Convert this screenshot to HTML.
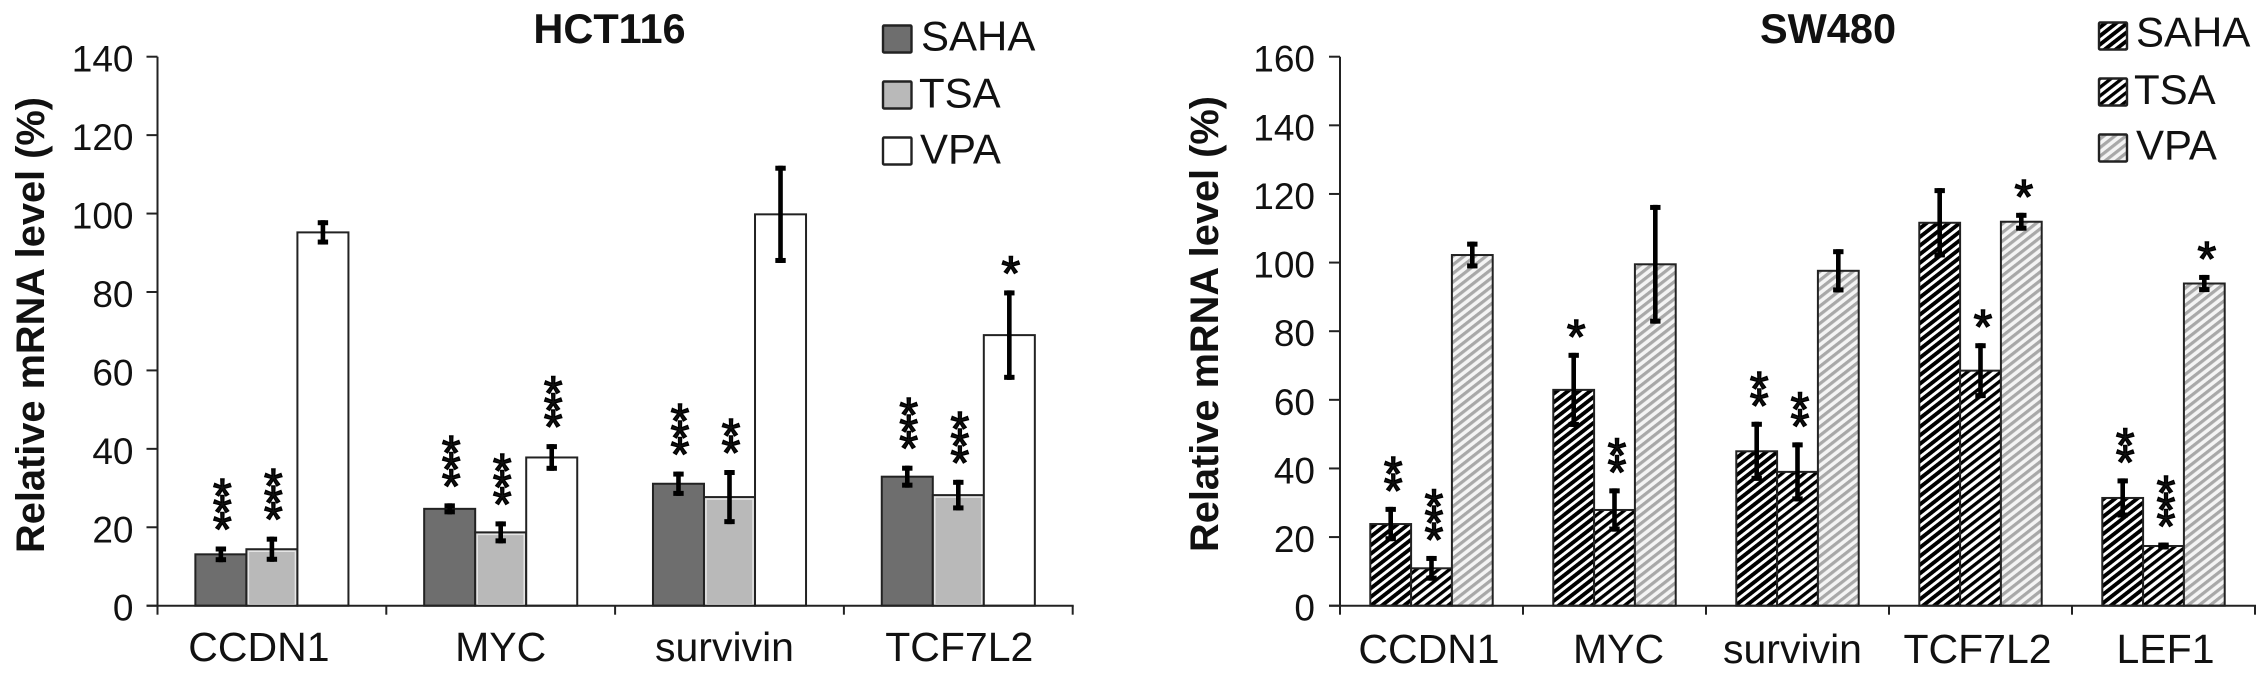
<!DOCTYPE html>
<html>
<head>
<meta charset="utf-8">
<title>Relative mRNA level in HCT116 and SW480</title>
<style>
html,body{margin:0;padding:0;background:#fff;width:2268px;height:677px;overflow:hidden}
svg{display:block}
text{font-family:"Liberation Sans",Arial,sans-serif;fill:#111}
</style>
</head>
<body>
<svg id="figure" xmlns="http://www.w3.org/2000/svg" width="2268" height="677" viewBox="0 0 2268 677">
<defs>
<pattern id="hatch-saha" width="6.8" height="6.8" patternUnits="userSpaceOnUse" patternTransform="rotate(-38)"><rect width="6.8" height="6.8" fill="#fff"/><rect width="6.8" height="3.9" fill="#000"/></pattern>
<pattern id="hatch-tsa" width="6.8" height="6.8" patternUnits="userSpaceOnUse" patternTransform="rotate(-38)"><rect width="6.8" height="6.8" fill="#fff"/><rect width="6.8" height="3.3" fill="#000"/></pattern>
<pattern id="hatch-vpa" width="6.8" height="6.8" patternUnits="userSpaceOnUse" patternTransform="rotate(-38)"><rect width="6.8" height="6.8" fill="#f4f4f4"/><rect width="6.8" height="3.2" fill="#a8a8a8"/></pattern>
</defs>
<g id="left-chart"></g>
<g id="right-chart"></g>
</svg>
<script>
// ---- HCT116 data ----
const hctCategories = ["CCDN1", "MYC", "survivin", "TCF7L2"];
const hctTicks = [0, 20, 40, 60, 80, 100, 120, 140];
const hctSaha = [13.1, 24.7, 31.1, 32.9];
const hctTsa = [14.4, 18.7, 27.7, 28.2];
const hctVpa = [95.2, 37.8, 99.8, 69];
const hctSahaErr = [2, 1.4, 3.1, 2.8];
const hctTsaErr = [3.2, 2.8, 6.9, 3.9];
const hctVpaErr = [3.1, 3.4, 12.4, 11.4];
const hctSahaStars = [3, 3, 3, 3];
const hctTsaStars = [3, 3, 2, 3];
const hctVpaStars = [0, 3, 0, 1];

// ---- SW480 data ----
const swCategories = ["CCDN1", "MYC", "survivin", "TCF7L2", "LEF1"];
const swTicks = [0, 20, 40, 60, 80, 100, 120, 140, 160];
const swSaha = [23.8, 62.9, 45, 111.6, 31.4];
const swTsa = [10.9, 27.9, 39, 68.5, 17.4];
const swVpa = [102.2, 99.5, 97.6, 111.9, 93.9];
const swSahaErr = [5, 10.8, 8.6, 10.1, 5.7];
const swTsaErr = [3.6, 6.3, 8.6, 8, 1];
const swVpaErr = [3.9, 17.3, 6.3, 2.6, 2.5];
const swSahaStars = [2, 1, 2, 0, 2];
const swTsaStars = [3, 2, 2, 1, 3];
const swVpaStars = [0, 0, 0, 1, 1];

const seriesNames = ["SAHA", "TSA", "VPA"];

const SVGNS = "http://www.w3.org/2000/svg";
function mk(parent, tag, props) {
  const el = document.createElementNS(SVGNS, tag);
  for (const k in props) el.setAttribute(k, props[k]);
  parent.appendChild(el);
  return el;
}

function drawChart(root, cfg) {
  const yScale = v => cfg.y0 - (v / cfg.yMax) * (cfg.y0 - cfg.yTop);
  const catW = (cfg.x1 - cfg.x0) / cfg.categories.length;
  const barW = catW * 0.223;
  const barX = (c, s) => cfg.x0 + c * catW + (catW - 3 * barW) / 2 + s * barW;

  // bars
  cfg.series.forEach((vals, s) => {
    vals.forEach((v, c) => {
      const bar = mk(root, "rect", {x: barX(c, s), y: yScale(v), width: barW, height: cfg.y0 - yScale(v), fill: cfg.fills[s], stroke: "#222", "stroke-width": 2});
      
      
      if (cfg.innerEdges[s]) {
        const edge = mk(root, "rect", {x: barX(c, s) + 2, y: yScale(v) + 2, width: barW - 4, height: cfg.y0 - yScale(v) - 3, fill: "none", stroke: cfg.innerEdges[s], "stroke-width": 1.5});
        
        
      }
    });
  });

  // axes
  const yAxis = mk(root, "line", {x1: cfg.x0, x2: cfg.x0, y1: yScale(cfg.yMax), y2: cfg.y0, stroke: "#222", "stroke-width": 2});
  
  
  const xAxis = mk(root, "line", {x1: cfg.x0 - 11, x2: cfg.x1 + 1, y1: cfg.y0, y2: cfg.y0, stroke: "#222", "stroke-width": 2});
  
  

  cfg.ticks.forEach(t => {
    const y = yScale(t);
    const tick = mk(root, "line", {x1: cfg.x0 - 11, x2: cfg.x0, y1: y, y2: y, stroke: "#222", "stroke-width": 2});
    
    
    const lab = mk(root, "text", {x: cfg.x0 - cfg.tickGap, y: y + 15, "text-anchor": "end", "font-size": 37});
    lab.textContent = t;
    
    
  });

  for (let i = 0; i <= cfg.categories.length; i++) {
    const x = cfg.x0 + i * catW;
    const tick = mk(root, "line", {x1: x, x2: x, y1: cfg.y0, y2: cfg.y0 + 9, stroke: "#222", "stroke-width": 2});
    
    
  }

  cfg.categories.forEach((name, c) => {
    const lab = mk(root, "text", {x: cfg.x0 + (c + 0.5) * catW + cfg.labelDx[c], y: cfg.labelY, "text-anchor": "middle", "font-size": 41});
    lab.textContent = name;
    
    
  });

  // error bars and significance stars
  cfg.series.forEach((vals, s) => {
    vals.forEach((v, c) => {
      const cx = barX(c, s) + barW / 2;
      const err = cfg.errors[s][c];
      const top = yScale(v + err);
      const bot = yScale(v - err);
      const stem = mk(root, "line", {x1: cx, x2: cx, y1: top, y2: bot, stroke: "#000", "stroke-width": 4.6});
      
      
      const capT = mk(root, "line", {x1: cx - 5.2, x2: cx + 5.2, y1: top + 2.5, y2: top + 2.5, stroke: "#000", "stroke-width": 5});
      
      
      const capB = mk(root, "line", {x1: cx - 5.2, x2: cx + 5.2, y1: bot - 2.5, y2: bot - 2.5, stroke: "#000", "stroke-width": 5});
      
      
      for (let k = 0; k < cfg.stars[s][c]; k++) {
        const star = mk(root, "text", {x: cx + cfg.starDx, y: top - cfg.starGap - k * cfg.starStep + 25, "text-anchor": "middle", "font-size": 48, stroke: "#000", "stroke-width": 1.4, fill: "#000"});
        star.textContent = "*";
        
        
      }
    });
  });

  // title
  const title = mk(root, "text", {x: cfg.titleX, y: 43, "text-anchor": "middle", "font-size": 41.5, "font-weight": "bold"});
  title.textContent = cfg.title;
  
  

  // y axis title
  const yt = mk(root, "text", {x: 0, y: 0, transform: "translate(" + cfg.yTitleX + "," + cfg.yTitleY + ") rotate(-90)", "text-anchor": "middle", "font-size": 40, "font-weight": "bold", textLength: 456, lengthAdjust: "spacingAndGlyphs"});
  yt.textContent = "Relative mRNA level (%)";
  
  

  // legend
  seriesNames.forEach((name, s) => {
    const sw = mk(root, "rect", {x: cfg.legendX, y: cfg.legendY[s], width: cfg.legendW, height: 27, fill: cfg.fills[s], stroke: "#222", "stroke-width": 2.4, rx: 1});
    
    
    const tx = mk(root, "text", {x: cfg.legendTextX[s], y: cfg.legendBase[s], "font-size": 42});
    tx.textContent = name;
    
    
  });
}

drawChart(document.getElementById("left-chart"), {
  categories: hctCategories, ticks: hctTicks,
  series: [hctSaha, hctTsa, hctVpa],
  errors: [hctSahaErr, hctTsaErr, hctVpaErr],
  stars: [hctSahaStars, hctTsaStars, hctVpaStars],
  fills: ["#6e6e6e", "#b9b9b9", "#ffffff"],
  innerEdges: [null, "#e6e6e6", null],
  x0: 157.5, x1: 1072.7, y0: 605.7, yTop: 56.7, yMax: 140,
  tickGap: 24, labelDx: [-13, 0, -5, 1], labelY: 661,
  starDx: 1.5, starGap: 26, starStep: 16.8,
  title: "HCT116", titleX: 609.5, yTitleX: 44, yTitleY: 325,
  legendX: 883, legendW: 28.5, legendY: [25.5, 81.5, 137.5],
  legendTextX: [921, 919, 920], legendBase: [50.7, 107.3, 163.3]
});

drawChart(document.getElementById("right-chart"), {
  categories: swCategories, ticks: swTicks,
  series: [swSaha, swTsa, swVpa],
  errors: [swSahaErr, swTsaErr, swVpaErr],
  stars: [swSahaStars, swTsaStars, swVpaStars],
  fills: ["url(#hatch-saha)", "url(#hatch-tsa)", "url(#hatch-vpa)"],
  innerEdges: [null, null, null],
  x0: 1340, x1: 2255, y0: 605.7, yTop: 56.7, yMax: 160,
  tickGap: 25, labelDx: [-2.5, 4, -5, -3, 2], labelY: 663,
  starDx: 2.5, starGap: 25, starStep: 16.7,
  title: "SW480", titleX: 1828, yTitleX: 1218, yTitleY: 324,
  legendX: 2099, legendW: 28, legendY: [22.5, 78.5, 134.5],
  legendTextX: [2136, 2134, 2136], legendBase: [46.7, 104, 159.3]
});
</script>
</body>
</html>
